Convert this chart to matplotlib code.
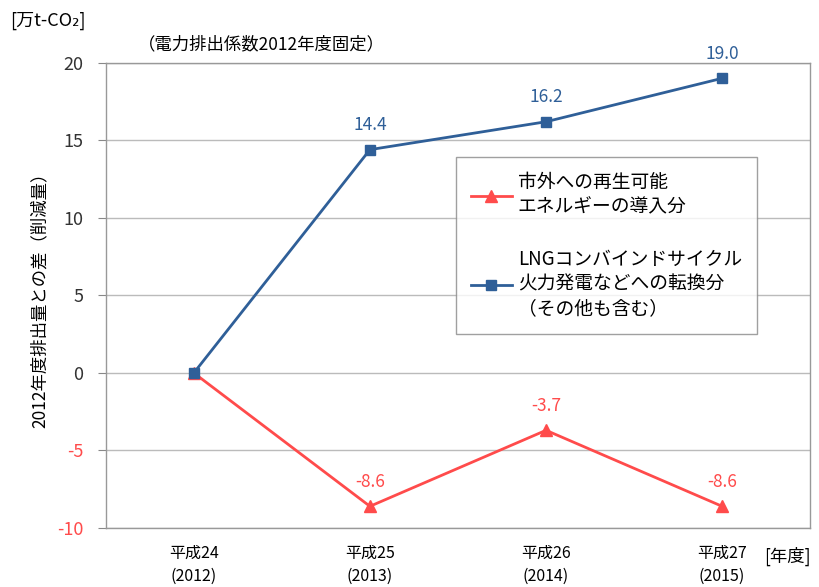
import matplotlib
matplotlib.use('Agg')
import matplotlib.pyplot as plt

plt.rcParams['font.family'] = ['Noto Sans CJK JP', 'DejaVu Sans']

# data
years = ['平成24\n(2012)', '平成25\n(2013)', '平成26\n(2014)', '平成27\n(2015)']
renew = [0.0, -8.6, -3.7, -8.6]      # 市外への再生可能エネルギー
lng = [0.0, 14.4, 16.2, 19.0]        # LNGコンバインドサイクル
renew_lbl = ['', '-8.6', '-3.7', '-8.6']
lng_lbl = ['', '14.4', '16.2', '19.0']
yticks = [-10, -5, 0, 5, 10, 15, 20]

red = '#FF4B4B'
blue = '#2F5F98'

fig = plt.figure(figsize=(8.2, 5.87), dpi=100)
ax = fig.add_axes([0.129, 0.1005, 0.859, 0.7925])

x = range(len(years))
ax.plot(x, renew, color=red, lw=2, marker='^', ms=9, label='市外への再生可能\nエネルギーの導入分', zorder=3)
ax.plot(x, lng, color=blue, lw=2, marker='s', ms=7, label='LNGコンバインドサイクル\n火力発電などへの転換分\n（その他も含む）', zorder=4)

for i in x:
    if lng_lbl[i]:
        ax.text(i, lng[i] + 1.0, lng_lbl[i], color=blue, ha='center', va='bottom', fontsize=12.5)
    if renew_lbl[i]:
        ax.text(i, renew[i] + 1.0, renew_lbl[i], color=red, ha='center', va='bottom', fontsize=12.5)

ax.set_xlim(-0.5, 3.5)
ax.set_ylim(-10, 20)
ax.set_yticks(yticks)
ax.set_yticklabels([str(v) for v in yticks], fontsize=13)
for t, v in zip(ax.get_yticklabels(), yticks):
    t.set_color(red if v < 0 else '#333333')
ax.set_xticks(list(x))
ax.set_xticklabels(years, fontsize=11.5, linespacing=1.45)
ax.tick_params(axis='x', length=0, pad=12)
ax.tick_params(axis='y', length=6, color='#888888', pad=10)
ax.yaxis.grid(True, color='#BBBBBB', lw=1)
ax.set_axisbelow(True)
for s in ax.spines.values():
    s.set_color('#999999')
    s.set_linewidth(1)

ax.set_ylabel('2012年度排出量との差（削減量）', fontsize=12.5, labelpad=6)

leg = ax.legend(loc='upper left', bbox_to_anchor=(0.497, 0.797), fontsize=13.5,
                frameon=True, fancybox=False, edgecolor='#888888',
                handlelength=2.2, labelspacing=1.7, borderpad=0.8,
                handletextpad=0.3, borderaxespad=0)
leg.get_frame().set_linewidth(1)

fig.text(0.012, 0.965, '[万t-CO₂]', fontsize=13, va='center', ha='left')
fig.text(0.168, 0.925, '（電力排出係数2012年度固定）', fontsize=12.5, va='center', ha='left')
fig.text(0.932, 0.052, '[年度]', fontsize=12.5, va='center', ha='left')

fig.savefig('out.png', dpi=100)
